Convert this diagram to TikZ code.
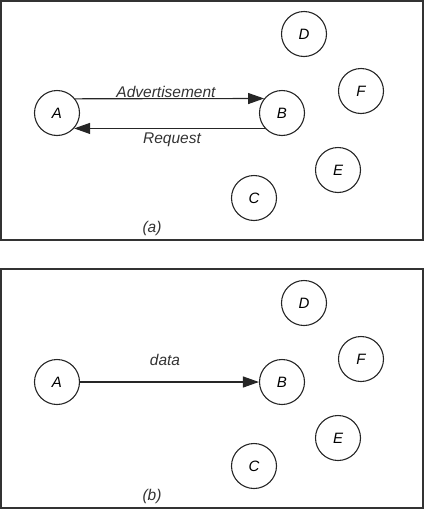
\documentclass[tikz,border=0pt]{standalone}
\usepackage{fontspec}
\setmainfont{Liberation Sans}
\usetikzlibrary{arrows.meta}
\begin{document}
\begin{tikzpicture}[x=1pt,y=-1pt,
  nd/.style={circle,draw=black!85,line width=1.1pt,minimum size=45pt,inner sep=0pt,font=\fontsize{15}{18}\selectfont\itshape},
  lbl/.style={inner sep=0pt,anchor=base,font=\fontsize{15.5}{18}\selectfont\itshape,text=black!80},
  frame/.style={draw=black!80,line width=1.4pt},
  arr/.style={line width=1.1pt,draw=black!85,-{Triangle[length=16pt,width=11pt]}}]
\useasboundingbox (0,0) rectangle (429,509);
% panel (a)
\draw[frame] (1,1) rectangle (423,240);
\node[nd] (A1) at (57,113) {A};
\node[nd] (B1) at (282,113) {B};
\node[nd] (D1) at (304,34) {D};
\node[nd] (F1) at (361,91) {F};
\node[nd] (E1) at (338,170) {E};
\node[nd] (C1) at (254,198) {C};
\draw[arr] (A1.38.5) -- (B1.141.5);
\draw[arr] (B1.-138) -- (A1.-42);
\node[lbl] (adv) at (166,97.5) {Advertisement};
\node[lbl] (req) at (172,143) {Request};
\node[lbl] (la) at (152,232) {(a)};
% panel (b)
\draw[frame] (1,269) rectangle (423,508);
\node[nd] (A2) at (57,382) {A};
\node[nd] (B2) at (282,382) {B};
\node[nd] (D2) at (304,303) {D};
\node[nd] (F2) at (361,359) {F};
\node[nd] (E2) at (338,438) {E};
\node[nd] (C2) at (254,466) {C};
\draw[arr] (A2) -- (B2);
\node[lbl] (dat) at (165,365.5) {data};
\node[lbl] (lb) at (152,500) {(b)};
\end{tikzpicture}
\end{document}
